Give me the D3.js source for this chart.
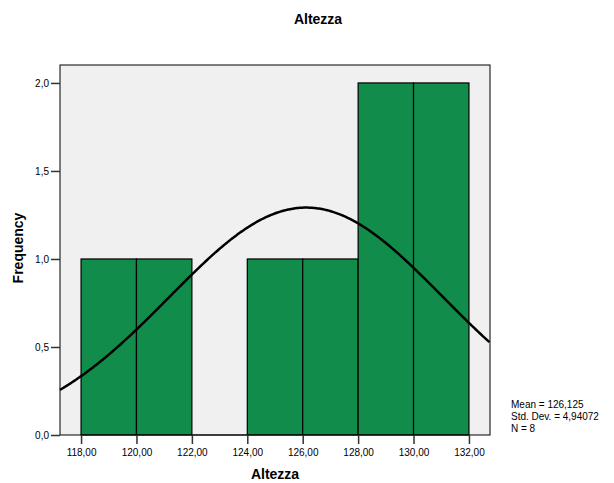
<!DOCTYPE html>
<html>
<head>
<meta charset="utf-8">
<script src="https://cdn.jsdelivr.net/npm/d3@7"></script>
<style>
  html, body { margin: 0; padding: 0; background: #fff; }
  text { font-family: "Liberation Sans", Arial, sans-serif; }
</style>
</head>
<body>
<svg id="chart" width="614" height="483"></svg>
<script>
// Histogram bins (lower edge, upper edge) and their counts
const binStarts = [118, 120, 122, 124, 126, 128, 130];
const binEnds   = [120, 122, 124, 126, 128, 130, 132];
const counts    = [1, 1, 0, 1, 1, 2, 2];
const xTicks    = [118, 120, 122, 124, 126, 128, 130, 132];
const yTicks    = [0, 0.5, 1.0, 1.5, 2.0];
const meanVal = 126.125, sdVal = 4.94072, nVal = 8, binWidth = 2;
const statLines = ["Mean = 126,125", "Std. Dev. = 4,94072", "N = 8"];

const svg = d3.select("#chart");
const L = 60, R = 490, T = 65, B = 435;

const x = d3.scaleLinear().domain([117.24, 132.76]).range([L, R]);
const y = d3.scaleLinear().domain([0, 2.102]).range([B, T]);

const comma = d => d.toFixed(2).replace(".", ",");
const comma1 = d => d.toFixed(1).replace(".", ",");

// plot background
svg.append("rect").attr("x", L).attr("y", T).attr("width", R - L).attr("height", B - T)
  .attr("fill", "#f0f0f0");

// bars
const bins = binStarts.map((s, i) => ({ s, e: binEnds[i], c: counts[i] }));
svg.append("g").selectAll("rect").data(bins.filter(d => d.c > 0)).join("rect")
  .attr("x", d => x(d.s)).attr("y", d => y(d.c))
  .attr("width", d => x(d.e) - x(d.s)).attr("height", d => y(0) - y(d.c))
  .attr("fill", "#118c4a").attr("stroke", "#000").attr("stroke-width", 1.2);

// empty bin baseline
svg.append("g").selectAll("line").data(bins.filter(d => d.c === 0)).join("line")
  .attr("x1", d => x(d.s)).attr("x2", d => x(d.e)).attr("y1", y(0)).attr("y2", y(0))
  .attr("stroke", "#000").attr("stroke-width", 1.2);

// normal curve
const pdf = v => nVal * binWidth / (sdVal * Math.sqrt(2 * Math.PI)) *
  Math.exp(-0.5 * Math.pow((v - meanVal) / sdVal, 2));
const xs = d3.range(117.24, 132.76 + 0.001, 0.05);
svg.append("path").datum(xs)
  .attr("d", d3.line().x(v => x(v)).y(v => y(pdf(v))))
  .attr("fill", "none").attr("stroke", "#000").attr("stroke-width", 2.5);

// frame
svg.append("rect").attr("x", L).attr("y", T).attr("width", R - L).attr("height", B - T)
  .attr("fill", "none").attr("stroke", "#000").attr("stroke-width", 1);

// axes
const xAxis = svg.append("g").attr("transform", `translate(0,${B})`)
  .call(d3.axisBottom(x).tickValues(xTicks).tickFormat(comma).tickSize(9).tickPadding(5));
const yAxis = svg.append("g").attr("transform", `translate(${L},0)`)
  .call(d3.axisLeft(y).tickValues(yTicks).tickFormat(comma1).tickSize(9).tickPadding(2));
[xAxis, yAxis].forEach(g => {
  g.select(".domain").remove();
  g.selectAll(".tick line").attr("stroke", "#333").attr("stroke-width", 1.5);
  g.selectAll(".tick text").attr("font-size", 10).attr("fill", "#000")
    .attr("font-family", "Liberation Sans, Arial, sans-serif");
});

// titles
svg.append("text").attr("x", 318).attr("y", 24).attr("text-anchor", "middle")
  .attr("font-size", 14).attr("font-weight", "bold").text("Altezza");
svg.append("text").attr("x", 275).attr("y", 479).attr("text-anchor", "middle")
  .attr("font-size", 14).attr("font-weight", "bold").text("Altezza");
svg.append("text").attr("transform", "translate(23,248) rotate(-90)")
  .attr("text-anchor", "middle").attr("font-size", 14).attr("font-weight", "bold")
  .text("Frequency");

// summary statistics
svg.append("g").selectAll("text").data(statLines).join("text")
  .attr("x", 511).attr("y", (d, i) => 408 + i * 12)
  .attr("font-size", 10).text(d => d);
</script>
</body>
</html>
